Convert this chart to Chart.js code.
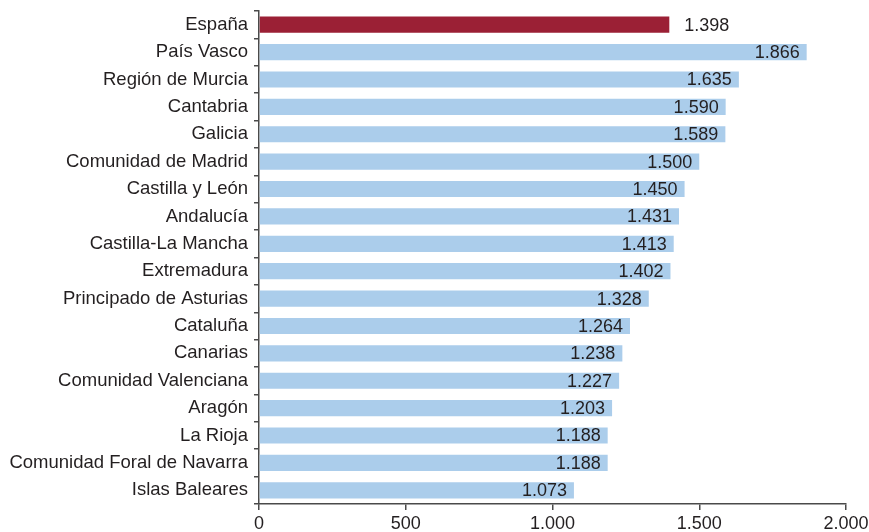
<!DOCTYPE html>
<html>
<head>
<meta charset="utf-8">
<script src="https://cdn.jsdelivr.net/npm/chart.js@4"></script>
<style>
  html, body { margin: 0; padding: 0; background: #fff; }
  #wrap { width: 869px; height: 532px; position: relative; }
</style>
</head>
<body>
<div id="wrap"><canvas id="graph"></canvas></div>
<script>
// Datos
var regiones = ['España', 'País Vasco', 'Región de Murcia', 'Cantabria', 'Galicia',
    'Comunidad de Madrid', 'Castilla y León', 'Andalucía', 'Castilla-La Mancha',
    'Extremadura', 'Principado de Asturias', 'Cataluña', 'Canarias',
    'Comunidad Valenciana', 'Aragón', 'La Rioja', 'Comunidad Foral de Navarra', 'Islas Baleares'];
var valores = [1398, 1866, 1635, 1590, 1589, 1500, 1450, 1431, 1413, 1402, 1328, 1264, 1238, 1227, 1203, 1188, 1188, 1073];
var ticksX = [0, 500, 1000, 1500, 2000];

var ROJO = '#9b2035';
var AZUL = '#abcdeb';
var TEXTO = '#231f20';
var EJE = '#4a4a4a';
var FUENTE = '"Liberation Sans", Arial, Helvetica, sans-serif';

function fmt(v) {
    return String(v).replace(/\B(?=(\d{3})+(?!\d))/g, '.');
}

// Etiquetas de valor
var etiquetas = {
    id: 'etiquetas',
    afterDatasetsDraw(chart) {
        var ctx = chart.ctx;
        var meta = chart.getDatasetMeta(0);
        ctx.save();
        ctx.font = '18px ' + FUENTE;
        ctx.fillStyle = TEXTO;
        ctx.textBaseline = 'middle';
        meta.data.forEach((bar, i) => {
            var txt = fmt(valores[i]);
            if (i === 0) {
                ctx.textAlign = 'left';
                ctx.fillText(txt, bar.x + 15, bar.y + 1);
            } else {
                ctx.textAlign = 'right';
                ctx.fillText(txt, bar.x - 7, bar.y + 1);
            }
        });
        ctx.restore();
    }
};

var ctx = document.getElementById('graph').getContext('2d');
var grafico = new Chart(ctx, {
    type: 'bar',
    data: {
        labels: regiones,
        datasets: [{
            data: valores,
            backgroundColor: valores.map((v, i) => i === 0 ? ROJO : AZUL),
            borderWidth: 0,
            barPercentage: 0.59,
            categoryPercentage: 1
        }]
    },
    options: {
        indexAxis: 'y',
        responsive: true,
        maintainAspectRatio: false,
        animation: false,
        layout: { padding: { top: 11, right: 23, left: 0, bottom: 0 } },
        plugins: { legend: { display: false }, tooltip: { enabled: false } },
        scales: {
            x: {
                min: 0,
                max: 2000,
                afterBuildTicks: (axis) => { axis.ticks = ticksX.map(v => ({ value: v })); },
                afterFit: (axis) => {
                    axis.height = 28;
                    axis.paddingLeft = 0;
                    axis.paddingRight = 0;
                },
                ticks: {
                    callback: (v) => fmt(v),
                    color: TEXTO,
                    font: { family: FUENTE, size: 18 },
                    padding: 3,
                    maxRotation: 0
                },
                grid: { drawOnChartArea: false, tickLength: 6, color: EJE, lineWidth: 1.5 },
                border: { display: true, color: EJE, width: 1.5 }
            },
            y: {
                afterFit: (axis) => {
                    axis.width = 259;
                    axis.paddingTop = 0;
                    axis.paddingBottom = 0;
                },
                ticks: {
                    color: TEXTO,
                    font: { family: FUENTE, size: 18.5 },
                    padding: 6
                },
                grid: { drawOnChartArea: false, tickLength: 5, color: EJE, lineWidth: 1.5 },
                border: { display: true, color: EJE, width: 1.5 }
            }
        }
    },
    plugins: [etiquetas]
});
</script>
</body>
</html>
